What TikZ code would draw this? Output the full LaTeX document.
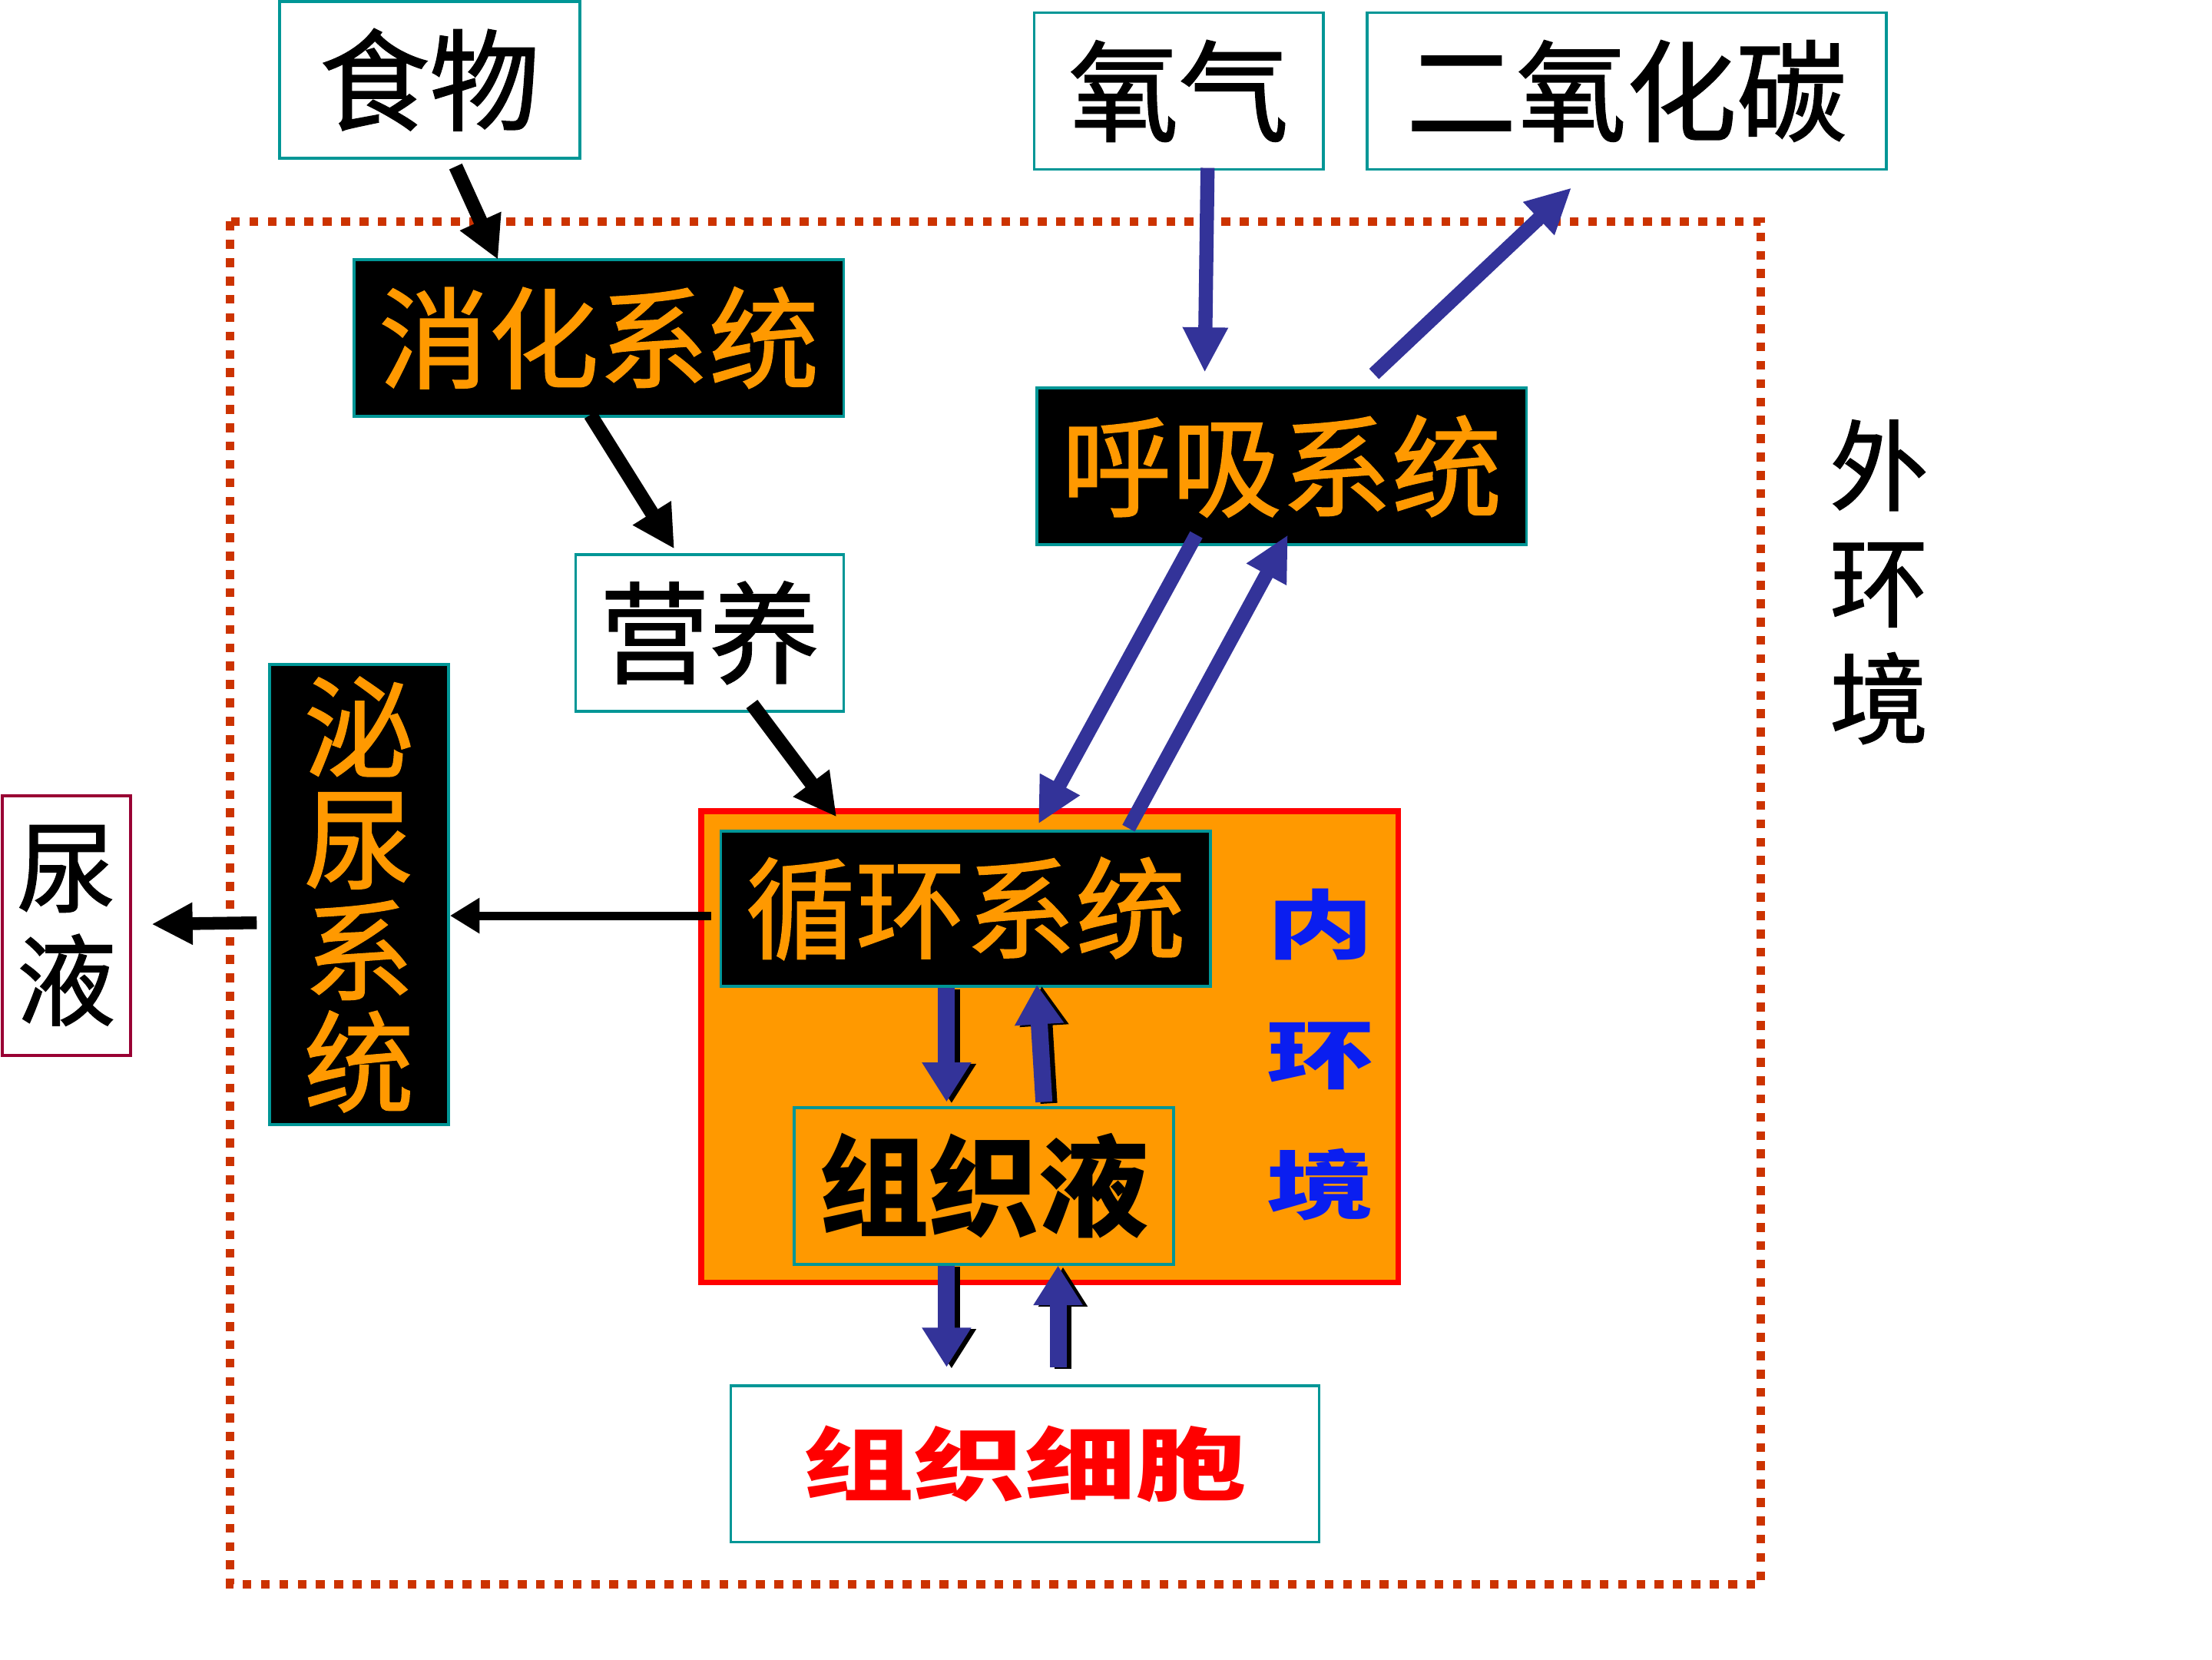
\documentclass[tikz,border=0pt]{standalone}
\usepackage{fontspec}
\newfontfamily\cjk{Noto Sans CJK SC}[FakeBold=1.2]
\newfontfamily\cjkb{Noto Sans CJK SC}
\usetikzlibrary{arrows.meta,calc}
\definecolor{teal1}{RGB}{0,150,150}
\definecolor{org}{RGB}{255,153,0}
\definecolor{dashred}{RGB}{204,51,0}
\definecolor{arrblue}{RGB}{51,51,153}
\definecolor{nblue}{RGB}{10,30,240}
\definecolor{maroon1}{RGB}{153,0,51}
\begin{document}
\begin{tikzpicture}[x=0.1mm,y=-0.1mm,
  box/.style={draw=teal1, line width=0.2mm, inner sep=0pt, align=center,
    font=\cjk\fontsize{22.2pt}{22.5pt}\selectfont},
  wbox/.style={box, fill=white, text=black},
  kbox/.style={box, fill=black, text=org},
  barrow/.style={draw=black, line width=1mm, -{Triangle[length=3mm,width=3mm]}},
  uarrow/.style={draw=arrblue, line width=1mm, -{Triangle[length=3.2mm,width=3mm]}},
  tarrow/.style={draw=arrblue, line width=1.2mm, -{Triangle[length=2.8mm,width=3.3mm]}},
  tshadow/.style={tarrow, draw=black, transform canvas={shift={(0.35mm,-0.1mm)}}}
]
\useasboundingbox (0,0) rectangle (1568,1176);
\fill[white] (0,0) rectangle (1568,1176);

% outer dashed frame
\draw[dashred, line width=0.6mm, dash pattern=on 0.63mm off 0.67mm] (163,157) rectangle (1248,1123);

% inner environment box
\node[fill=org, draw=red, line width=0.4mm, minimum width=49.4mm, minimum height=33.4mm, inner sep=0pt] (nhj) at (744,742) {};

% nodes
\node[wbox, minimum width=21.3mm, minimum height=11.1mm] (shiwu) at (304.5,56.5) {食物};
\node[kbox, minimum width=34.7mm, minimum height=11.1mm] (xiaohua) at (424.5,239.5) {消化系统};
\node[wbox, minimum width=20.5mm, minimum height=11.1mm] (yangqi) at (835.5,64.5) {氧气};
\node[wbox, minimum width=36.8mm, minimum height=11.1mm] (co2) at (1153,64.5) {二氧化碳};
\node[kbox, minimum width=34.7mm, minimum height=11.1mm] (huxi) at (908.5,330.5) {呼吸系统};
\node[wbox, minimum width=19mm, minimum height=11.1mm] (yingyang) at (503,448.5) {营养};
\node[kbox, minimum width=12.7mm, minimum height=32.6mm] (miniao) at (254.5,634) {泌\\尿\\系\\统};
\node[wbox, draw=maroon1, minimum width=9.1mm, minimum height=18.4mm,
  font=\cjk\fontsize{20pt}{22.8pt}\selectfont] (niaoye) at (47,656) {尿\\液};
\node[kbox, minimum width=34.7mm, minimum height=11mm] (xunhuan) at (684.5,644) {循环系统};
\node[box, fill=org, text=black, minimum width=26.9mm, minimum height=11.1mm,
  font=\cjkb\bfseries\fontsize{22.2pt}{22.5pt}\selectfont] (zzy) at (697.5,840.5) {组织液};
\node[wbox, minimum width=41.7mm, minimum height=11.1mm, text=red,
  font=\cjkb\bfseries\fontsize{22.4pt}{22.5pt}\selectfont] (xibao) at (726.5,1037.5)
  {\scalebox{1}[0.72]{组织细胞}};
\node[align=center, inner sep=0pt, text=nblue,
  font=\cjkb\bfseries\fontsize{21.6pt}{26.3pt}\selectfont] (nhjtext) at (936,747.5)
  {\scalebox{1}[0.7]{内}\\\scalebox{1}[0.7]{环}\\\scalebox{1}[0.7]{境}};
\node[align=center, inner sep=0pt, text=black,
  font=\cjk\fontsize{19.9pt}{23.5pt}\selectfont] (whj) at (1332,412.5) {外\\环\\境};

% black arrows
\draw[barrow] ($(shiwu.south)+(18.5,5)$) -- ($(xiaohua.north)+(-71.5,1)$);
\draw[barrow] ($(xiaohua.south)+(-6,-2)$) -- ($(yingyang.north)+(-25,-3)$);
\draw[barrow] ($(yingyang.south)+(30,-6)$) -- ($(xunhuan.north)+(-91.5,-9)$);
\draw[draw=black, line width=0.6mm, -{Triangle[length=2.1mm,width=2.4mm]}]
  ($(xunhuan.west)+(-6,5)$) -- ($(miniao.east)+(0,15)$);
\draw[draw=black, line width=0.9mm, -{Triangle[length=2.9mm,width=2.8mm]}]
  ($(miniao.west)+(-8,20)$) -- ($(niaoye.east)+(14,-1)$);

% blue arrows
\draw[uarrow] ($(yangqi.south)+(20.5,-2)$) -- ($(huxi.north)+(-54.5,-10)$);
\draw[uarrow] ($(huxi.north)+(65.5,-9)$) -- ($(co2.south)+(-39,12)$);
\draw[uarrow] ($(huxi.south)+(-60.5,-8)$) -- ($(xunhuan.north)+(51.5,-4)$);
\draw[uarrow] ($(xunhuan.north)+(115.5,-1)$) -- ($(huxi.south)+(4.5,-8)$);

% thick blue arrows with shadow
\draw[tshadow] ($(xunhuan.south)+(-13.5,0)$) -- ($(zzy.north)+(-26.5,-3)$);
\draw[tarrow] ($(xunhuan.south)+(-13.5,0)$) -- ($(zzy.north)+(-26.5,-3)$);
\draw[tshadow] ($(zzy.north)+(42.5,-3)$) -- ($(xunhuan.south)+(50.5,-2)$);
\draw[tarrow] ($(zzy.north)+(42.5,-3)$) -- ($(xunhuan.south)+(50.5,-2)$);
\draw[tshadow] ($(zzy.south)+(-26.5,0)$) -- ($(xibao.north)+(-55.5,-12)$);
\draw[tarrow] ($(zzy.south)+(-26.5,0)$) -- ($(xibao.north)+(-55.5,-12)$);
\draw[tshadow] ($(xibao.north)+(23.5,-12)$) -- ($(zzy.south)+(52.5,0)$);
\draw[tarrow] ($(xibao.north)+(23.5,-12)$) -- ($(zzy.south)+(52.5,0)$);
\end{tikzpicture}
\end{document}
